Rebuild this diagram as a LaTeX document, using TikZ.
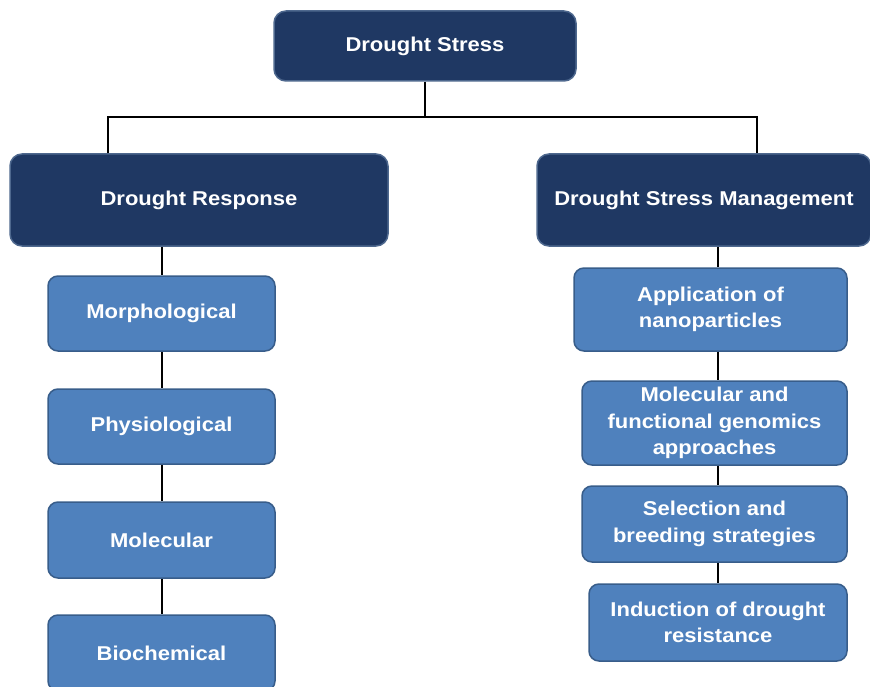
\documentclass[tikz,border=0pt]{standalone}
\usepackage{fontspec}
\setmainfont[FakeStretch=1.1]{Liberation Sans}
\definecolor{navy}{RGB}{31,56,99}
\definecolor{navyedge}{RGB}{78,104,142}
\definecolor{midblue}{RGB}{79,129,189}
\definecolor{midedge}{RGB}{56,93,138}
\tikzset{
  topbox/.style={draw=navyedge, line width=1.5pt, fill=navy, rounded corners=12pt,
    text=white, align=center, inner sep=0pt},
  subbox/.style={draw=midedge, line width=1.5pt, fill=midblue, rounded corners=10pt,
    text=white, align=center, inner sep=0pt},
  link/.style={line width=2pt, black}
}
\begin{document}
\begin{tikzpicture}[x=1pt,y=-1pt,font=\fontsize{20}{26.5}\selectfont\bfseries]
\useasboundingbox (0,0) rectangle (870,687);
\begin{scope}
\clip (0,0) rectangle (870,687);
% main levels
\node[topbox, minimum width=302pt, minimum height=70pt] (stress) at (425,46) {Drought Stress};
\node[topbox, minimum width=378pt, minimum height=92pt] (resp) at (199,200) {Drought Response};
\node[topbox, minimum width=334pt, minimum height=92pt] (mgmt) at (704,200) {Drought Stress Management};
% left column
\node[subbox, minimum width=227pt, minimum height=75pt] (morph) at (161.5,313.5) {Morphological};
\node[subbox, minimum width=227pt, minimum height=75pt] (phys) at (161.5,426.5) {Physiological};
\node[subbox, minimum width=227pt, minimum height=76pt] (molec) at (161.5,540) {Molecular};
\node[subbox, minimum width=227pt, minimum height=76pt] (bioch) at (161.5,653) {Biochemical};
% right column
\node[subbox, minimum width=273pt, minimum height=83pt] (nano) at (710.5,309.5) {Application of\\nanoparticles};
\node[subbox, minimum width=265pt, minimum height=84pt] (genom) at (714.5,423) {Molecular and\\functional genomics\\approaches};
\node[subbox, minimum width=265pt, minimum height=76pt] (breed) at (714.5,524) {Selection and\\breeding strategies};
\node[subbox, minimum width=258pt, minimum height=77pt] (induc) at (718,622.5) {Induction of drought\\resistance};
\end{scope}
% branching
\coordinate (jl) at (108,117);
\coordinate (jr) at (757,117);
\draw[link] (stress.south) -- (stress.south |- jl);
\draw[link] (jl |- resp.north) -- (jl) -- (jr) -- (jr |- mgmt.north);
\foreach \a/\b in {resp/morph, morph/phys, phys/molec, molec/bioch}
  \draw[link] (morph.north |- \a.south) -- (morph.north |- \b.north);
\foreach \a/\b in {mgmt/nano, nano/genom, genom/breed, breed/induc}
  \draw[link] (induc.north |- \a.south) -- (induc.north |- \b.north);
\end{tikzpicture}
\end{document}
